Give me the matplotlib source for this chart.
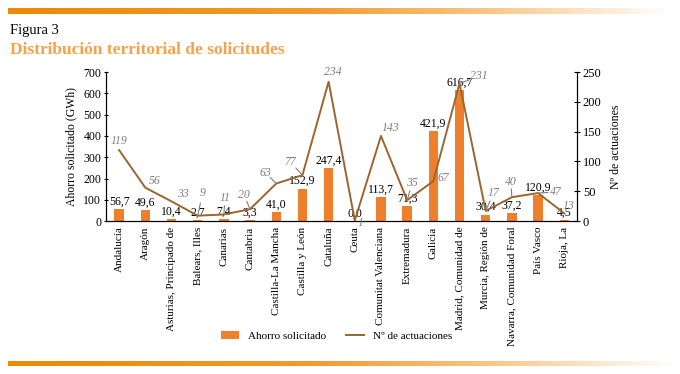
import numpy as np
import matplotlib
matplotlib.use('Agg')
import matplotlib.pyplot as plt
from matplotlib.colors import LinearSegmentedColormap

plt.rcParams['font.family'] = ['Liberation Serif', 'DejaVu Serif']

regions = [
    'Andalucía', 'Aragón', 'Asturias, Principado de', 'Balears, Illes', 'Canarias',
    'Cantabria', 'Castilla-La Mancha', 'Castilla y León', 'Cataluña', 'Ceuta',
    'Comunitat Valenciana', 'Extremadura', 'Galicia', 'Madrid, Comunidad de',
    'Murcia, Región de', 'Navarra, Comunidad Foral', 'País Vasco', 'Rioja, La',
]
ahorro_gwh = [56.7, 49.6, 10.4, 2.7, 7.4, 3.3, 41.0, 152.9, 247.4, 0.0,
              113.7, 71.3, 421.9, 616.7, 30.4, 37.2, 120.9, 4.5]
actuaciones = [119, 56, 33, 9, 11, 20, 63, 77, 234, 1,
               143, 35, 67, 231, 17, 40, 47, 13]

# label offsets (pixels) for the line values, and whether a leader line is drawn
line_lbl_offsets = [(0, 9), (9, 7), (11, 7), (5, 23), (1, 16), (-6, 14), (-11, 11), (-12, 13),
                    (4, 10), (6, -3), (9, 8), (5, 17), (10, 3), (19, 7), (8, 18), (-1, 15),
                    (18, 1), (4, 7)]
line_lbl_leader = [False, False, False, True, True, True, True, True,
                   False, False, False, True, False, True, True, True, True, False]

BAR_C = '#ee7f2d'
LINE_C = '#9a6630'
GREY = '#7f7f7f'


def fmt(v):
    return f'{v:.1f}'.replace('.', ',')


def gradient_strip(fig, rect):
    cmap = LinearSegmentedColormap.from_list(
        'strip', [(0, '#ee8900'), (0.45, '#f29a2e'), (0.7, '#f9c27c'), (1.0, '#ffffff')])
    ax = fig.add_axes(rect)
    ax.imshow(np.linspace(0, 1, 256)[None, :], aspect='auto', cmap=cmap)
    ax.set_axis_off()


fig = plt.figure(figsize=(6.8, 3.74), dpi=100)
gradient_strip(fig, [0.012, 0.963, 0.976, 0.016])
gradient_strip(fig, [0.012, 0.021, 0.985, 0.014])

fig.text(0.015, 0.91, 'Figura 3', fontsize=10.5, color='black')
fig.text(0.015, 0.855, 'Distribución territorial de solicitudes', fontsize=12.5,
         fontweight='bold', color='#f6a24c')

ax = fig.add_axes([0.156, 0.409, 0.693, 0.398])
x = np.arange(len(regions))
ax.bar(x, ahorro_gwh, width=0.36, color=BAR_C, label='Ahorro solicitado', zorder=2)
ax.set_xlim(-0.5, len(regions) - 0.5)
ax.set_ylim(0, 700)
ax.set_yticks(range(0, 701, 100))
ax.set_xticks(x)
ax.set_xticklabels(regions, rotation=90, fontsize=8)
ax.tick_params(axis='x', length=0, pad=4)
ax.tick_params(axis='y', labelsize=8.5, length=3, direction='inout', pad=2)
ax.set_ylabel('Ahorro solicitado (GWh)', fontsize=8.5)
ax.spines['top'].set_visible(False)

for xi, v in zip(x, ahorro_gwh):
    ax.annotate(fmt(v), (xi, v), xytext=(0, 1), textcoords='offset points',
                ha='center', va='bottom', fontsize=8.5, color='black', zorder=5)

ax2 = ax.twinx()
ax2.plot(x, actuaciones, color=LINE_C, lw=1.4, label='Nº de actuaciones', zorder=3)
ax2.set_ylim(0, 250)
ax2.set_yticks(range(0, 251, 50))
ax2.tick_params(axis='y', labelsize=9, length=4, direction='inout', pad=2)
ax2.set_ylabel('Nº de actuaciones', fontsize=8.5, labelpad=6)
ax2.spines['top'].set_visible(False)

for xi, v, off, lead in zip(x, actuaciones, line_lbl_offsets, line_lbl_leader):
    t = ax2.annotate(str(v), (xi, v), xytext=off, textcoords='offset pixels',
                     ha='center', va='center', fontsize=8.5, style='italic', color=GREY)
    if lead:
        # leader from just below/beside the label to the point
        ax2.annotate('', (xi, v), xytext=(off[0] * 0.55, off[1] * 0.55),
                     textcoords='offset pixels',
                     arrowprops=dict(arrowstyle='-', color=GREY, lw=0.8,
                                     shrinkA=0, shrinkB=0))

h1, l1 = ax.get_legend_handles_labels()
h2, l2 = ax2.get_legend_handles_labels()
fig.legend(h1 + h2, l1 + l2, loc='center', bbox_to_anchor=(0.495, 0.102), ncol=2,
           frameon=False, fontsize=8, handlelength=1.6, columnspacing=1.8,
           handleheight=0.8)

fig.savefig('out.png', dpi=100)
